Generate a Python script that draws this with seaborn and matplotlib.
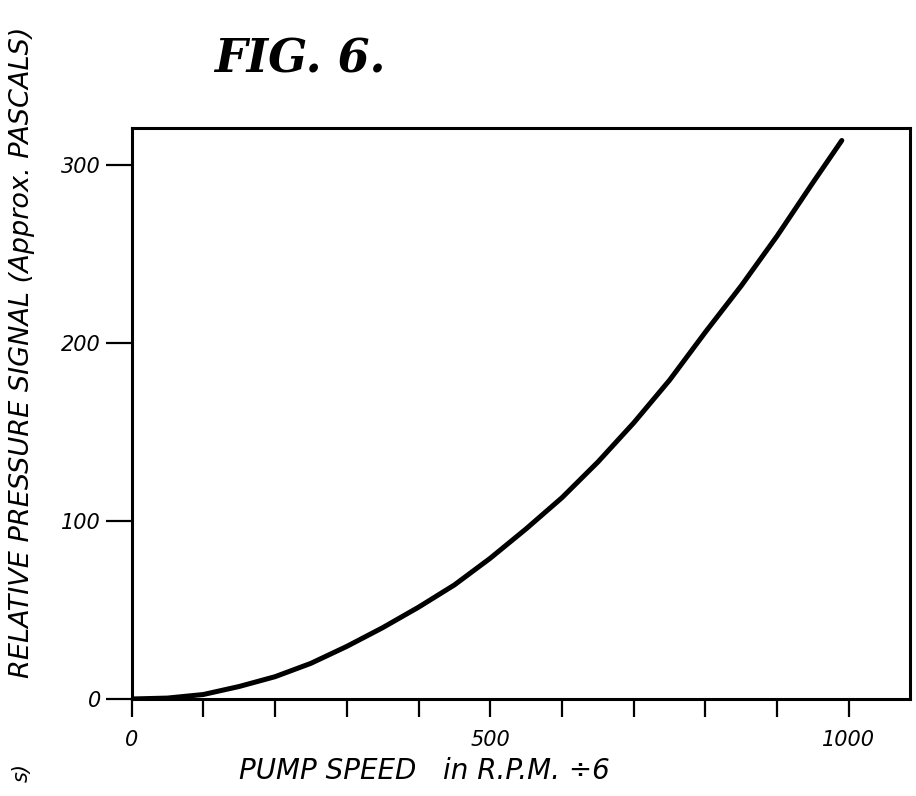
import numpy as np
import pandas as pd
import seaborn as sns
import matplotlib.pyplot as plt

# pump speed (rpm / 6) and relative pressure signal
speed = [0, 50, 100, 150, 200, 250, 300, 350, 400, 450, 500,
         550, 600, 650, 700, 750, 800, 850, 900, 950, 990]
pressure = [0, 0.5, 2.5, 7, 12.5, 20, 29.5, 40, 51.5, 64, 79,
            95.5, 113, 133, 155, 179, 206, 232, 260, 290, 313.5]

x_ticks = list(range(0, 1001, 100))
x_labels = {0: '0', 500: '500', 1000: '1000'}
y_ticks = [0, 100, 200, 300]

data = pd.DataFrame({'speed': speed, 'pressure': pressure})

sns.set_style('white')
plt.rcParams['font.family'] = ['DejaVu Sans']
plt.rcParams['text.color'] = 'black'

fig = plt.figure(figsize=(9.16, 7.96), dpi=100)
ax = fig.add_axes([0.1436, 0.1219, 0.8498, 0.7173])

sns.lineplot(x='speed', y='pressure', data=data, color='black', linewidth=3.6, ax=ax)

ax.set_xlim(0, 1085)
ax.set_ylim(0, 320.5)

ax.set_xticks(x_ticks)
ax.set_xticklabels([x_labels.get(t, '') for t in x_ticks], fontsize=15, style='italic')
ax.set_yticks(y_ticks)
ax.set_yticklabels([str(t) for t in y_ticks], fontsize=15, style='italic')
ax.tick_params(axis='x', bottom=True, direction='out', length=13, width=1.6,
               color='black', labelcolor='black', pad=9)
ax.tick_params(axis='y', left=True, direction='out', length=19, width=1.6,
               color='black', labelcolor='black', pad=3)
for s in ax.spines.values():
    s.set_color('black')
    s.set_linewidth(2.2)

ax.set_xlabel('')
ax.set_ylabel('')

fig.text(0.024, 0.558, 'RELATIVE PRESSURE SIGNAL (Approx. PASCALS)', rotation=90,
         ha='center', va='center', fontsize=19.5, style='italic')
fig.text(0.463, 0.032, 'PUMP SPEED   in R.P.M. ÷6', ha='center', va='center',
         fontsize=20, style='italic')
fig.text(0.024, 0.03, 's)', rotation=90, ha='center', va='center', fontsize=15, style='italic')
fig.text(0.327, 0.925, 'FIG. 6.', ha='center', va='center', fontsize=33,
         fontweight='bold', style='italic', family='DejaVu Serif')

fig.savefig('out.png', dpi=100)
